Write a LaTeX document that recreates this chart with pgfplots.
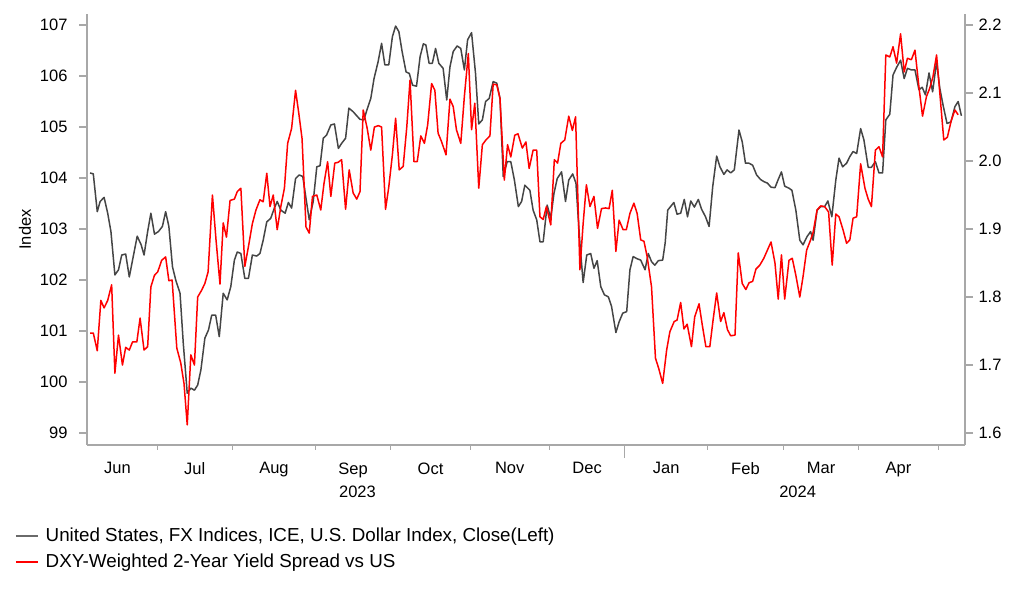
\documentclass[border=0pt]{standalone}
\usepackage{fontspec}
\setmainfont{Liberation Sans}
\usepackage{pgfplots}
\pgfplotsset{compat=1.18}
\usepackage{pgfplotstable}
\definecolor{dxy}{HTML}{454545}
\definecolor{axgray}{HTML}{A8A8A8}
\newcommand{\chartfont}{\fontsize{16.5}{19}\selectfont}
\newcommand{\legfont}{\fontsize{18.8}{21}\selectfont}

% x = business-day index from 1 Jun 2023
\pgfplotstableread{
x y
3.4 104.10
4.3 104.08
5.4 103.34
6.2 103.54
7.3 103.62
8.3 103.31
9.2 102.95
10.3 102.10
11.3 102.20
12.2 102.49
13.3 102.51
14.3 102.06
15.4 102.46
16.5 102.86
17.6 102.69
18.4 102.49
19.4 102.95
20.3 103.31
21.3 102.90
22.4 102.95
23.5 103.05
24.4 103.34
25.3 103.05
26.3 102.26
27.2 102.00
28.4 101.74
29.3 100.76
30.4 99.78
31.4 99.88
32.4 99.84
33.3 99.94
34.2 100.24
35.3 100.86
36.3 101.02
37.2 101.31
38.3 101.31
39.3 100.89
40.4 101.74
41.5 101.61
42.5 101.87
43.5 102.39
44.3 102.55
45.3 102.52
46.4 102.03
47.4 102.03
48.5 102.49
49.7 102.47
50.6 102.52
51.5 102.78
52.5 103.14
53.6 103.21
54.5 103.39
55.4 103.54
56.4 103.37
57.6 103.31
58.5 103.52
59.4 103.41
60.5 103.99
61.5 104.06
62.5 104.03
63.4 103.60
64.3 103.18
65.4 103.54
66.4 104.22
67.3 104.24
68.2 104.78
69.1 104.84
70.3 105.04
71.3 105.06
72.4 104.58
73.3 104.68
74.4 104.78
75.3 105.37
76.5 105.30
77.5 105.22
78.4 105.15
79.5 105.14
80.3 105.33
81.4 105.56
82.3 105.95
83.4 106.27
84.4 106.64
85.3 106.22
86.4 106.22
87.4 106.77
88.3 106.98
89.2 106.87
90.1 106.48
91.2 106.08
92.1 106.05
93.0 105.82
94.1 105.80
95.1 106.38
96.0 106.63
96.7 106.61
97.6 106.25
98.5 106.25
99.4 106.54
100.3 106.25
101.5 106.15
102.5 105.53
103.4 106.18
104.3 106.48
105.4 106.59
106.4 106.54
107.4 106.12
108.3 106.71
109.4 106.85
110.5 106.05
111.4 105.06
112.4 105.14
113.3 105.50
114.3 105.56
115.4 105.89
116.4 105.86
117.3 105.56
118.2 104.03
119.3 104.32
120.3 104.32
121.3 103.96
122.4 103.44
123.3 103.54
124.2 103.86
125.6 103.76
126.5 103.37
127.5 103.18
128.4 102.75
129.3 102.75
130.4 103.47
131.4 103.21
132.3 103.70
133.2 103.99
134.4 104.12
135.5 103.54
136.4 103.96
137.5 104.08
138.4 103.90
139.5 102.72
140.4 101.95
141.4 102.49
142.5 102.52
143.4 102.23
144.3 102.38
145.3 101.87
146.3 101.71
147.4 101.67
148.3 101.48
149.5 100.97
150.4 101.18
151.4 101.35
152.5 101.38
153.4 102.20
154.3 102.46
155.3 102.42
156.4 102.39
157.6 102.20
158.5 102.52
159.4 102.36
160.3 102.29
161.3 102.38
162.5 102.39
163.2 102.73
163.9 103.37
164.8 103.45
165.6 103.52
166.5 103.29
167.5 103.31
168.5 103.58
169.4 103.24
170.3 103.55
171.3 103.43
172.4 103.58
173.3 103.39
174.4 103.24
175.4 103.05
176.4 103.83
177.5 104.43
178.4 104.22
179.5 104.07
180.4 104.16
181.4 104.10
182.4 104.16
183.7 104.94
184.6 104.71
185.5 104.29
186.5 104.29
187.5 104.25
188.6 104.06
189.7 103.97
190.6 103.93
191.6 103.90
192.6 103.82
193.7 103.81
194.6 103.97
195.5 104.12
196.4 103.84
197.6 103.80
198.4 103.76
199.5 103.37
200.6 102.78
201.5 102.69
202.6 102.85
203.6 102.95
204.3 102.78
205.4 103.37
206.4 103.44
207.5 103.44
208.4 103.55
209.5 103.24
210.6 103.96
211.5 104.39
212.5 104.22
213.6 104.29
214.5 104.42
215.4 104.52
216.4 104.48
217.5 104.97
218.4 104.75
219.6 104.21
220.5 104.21
221.6 104.32
222.6 104.10
223.6 104.10
224.5 105.14
225.6 105.25
226.5 106.02
227.5 106.17
228.6 106.31
229.6 105.95
230.5 106.15
231.6 106.12
232.6 106.12
233.7 105.73
234.6 105.78
235.5 105.63
236.5 106.06
237.5 105.69
238.6 106.28
239.5 105.76
240.4 105.43
241.5 105.07
242.6 105.10
243.7 105.40
244.6 105.50
245.5 105.22
}\dxydata

\pgfplotstableread{
x y
3.4 1.747
4.3 1.747
5.4 1.721
6.4 1.795
7.3 1.784
8.3 1.795
9.4 1.818
10.3 1.688
11.3 1.744
12.4 1.700
13.3 1.726
14.3 1.722
15.2 1.734
16.4 1.734
17.3 1.769
18.4 1.722
19.4 1.727
20.3 1.815
21.3 1.832
22.2 1.837
23.3 1.854
24.4 1.859
25.3 1.824
26.2 1.825
27.5 1.725
28.6 1.703
29.5 1.673
30.4 1.612
31.4 1.715
32.4 1.700
33.3 1.800
34.4 1.810
35.3 1.820
36.2 1.837
37.4 1.950
38.4 1.884
39.5 1.819
40.4 1.909
41.3 1.888
42.3 1.942
43.5 1.944
44.3 1.955
45.3 1.960
46.4 1.845
47.4 1.874
48.5 1.908
49.5 1.928
50.6 1.943
51.5 1.940
52.5 1.982
53.4 1.933
54.3 1.950
55.4 1.899
56.4 1.933
57.4 1.960
58.3 2.026
59.4 2.048
60.5 2.104
61.4 2.070
62.3 2.033
63.4 1.903
64.3 1.894
65.2 1.948
66.4 1.950
67.5 1.928
68.4 1.967
69.4 1.999
70.3 1.948
71.4 1.997
72.3 1.998
73.3 2.002
74.4 1.929
75.4 1.987
76.5 1.953
77.5 1.944
78.4 1.955
79.3 2.075
80.4 2.048
81.4 2.016
82.4 2.050
83.5 2.052
84.4 2.050
85.5 1.929
86.4 1.962
87.4 2.009
88.3 2.063
89.3 1.987
90.4 1.992
91.4 2.050
92.3 2.119
93.4 1.999
94.3 1.999
95.3 2.037
96.3 2.026
97.2 2.053
98.3 2.114
99.2 2.104
100.1 2.041
101.1 2.028
102.3 2.009
103.4 2.091
104.3 2.080
105.2 2.046
106.4 2.026
107.4 2.095
108.5 2.158
109.4 2.046
110.3 2.085
111.4 1.960
112.4 2.024
113.4 2.031
114.5 2.037
115.4 2.113
116.4 2.112
117.3 2.092
118.5 1.972
119.4 2.024
120.3 2.006
121.4 2.038
122.3 2.040
123.5 2.019
124.5 2.028
125.4 1.989
126.5 2.016
127.5 2.016
128.4 1.918
129.3 1.914
130.2 1.933
131.4 1.906
132.4 2.002
133.3 1.997
134.2 2.026
135.3 2.031
136.4 2.066
137.4 2.045
138.3 2.065
139.5 1.840
140.4 1.908
141.3 1.965
142.3 1.933
143.4 1.948
144.4 1.901
145.5 1.930
146.6 1.931
147.6 1.930
148.5 1.957
149.5 1.867
150.4 1.913
151.5 1.899
152.4 1.899
153.4 1.923
154.5 1.938
155.4 1.923
156.4 1.884
157.3 1.882
158.2 1.859
159.4 1.815
160.5 1.710
161.4 1.695
162.5 1.673
163.6 1.722
164.5 1.749
165.7 1.764
166.5 1.766
167.5 1.792
168.4 1.753
169.3 1.760
170.5 1.727
171.4 1.771
172.6 1.790
173.5 1.759
174.5 1.727
175.6 1.727
176.5 1.766
177.5 1.806
178.6 1.764
179.5 1.777
180.5 1.752
181.4 1.743
182.6 1.744
183.5 1.865
184.6 1.820
185.6 1.811
186.5 1.821
187.5 1.823
188.4 1.841
189.5 1.847
190.6 1.857
191.6 1.869
192.6 1.881
193.7 1.850
194.6 1.797
195.5 1.862
196.4 1.797
197.6 1.854
198.5 1.857
199.5 1.832
200.6 1.800
201.5 1.830
202.5 1.869
203.6 1.884
204.3 1.895
205.4 1.928
206.4 1.934
207.5 1.933
208.6 1.925
209.6 1.847
210.6 1.922
211.5 1.918
212.6 1.899
213.6 1.879
214.5 1.884
215.4 1.916
216.4 1.918
217.5 1.996
218.7 1.960
219.6 1.944
220.5 1.933
221.6 2.016
222.6 2.021
223.6 2.006
224.5 2.156
225.6 2.153
226.5 2.168
227.5 2.144
228.6 2.187
229.6 2.131
230.5 2.151
231.6 2.149
232.6 2.163
233.7 2.109
234.7 2.066
235.8 2.095
236.7 2.107
237.6 2.124
238.6 2.156
239.5 2.100
240.6 2.031
241.6 2.035
242.7 2.060
243.7 2.075
244.6 2.068
}\spreaddata

\begin{document}
\begin{tikzpicture}
\path[use as bounding box] (0pt,0pt) rectangle (1022pt,597pt);
\pgfplotsset{
  common/.style={
    at={(87pt,152pt)}, anchor=south west,
    scale only axis, width=878pt, height=431pt,
    xmin=2.55, xmax=246.5,
    axis line style={axgray, line width=1.5pt},
    tick align=outside,
    tick label style={font=\chartfont, text=black},
    /pgf/number format/assume math mode=true,
    clip mode=individual,
  },
}
\begin{axis}[
  common,
  ymin=98.765, ymax=107.216,
  axis x line*=bottom, axis y line*=left,
  ytick={99,100,101,102,103,104,105,106,107},
  ytick style={axgray, line width=1.2pt},
  major tick length=8pt,
  yticklabel style={xshift=-8pt},
  xtick={11,32.5,54.5,76.5,98,120,141.5,163.5,185.5,206.5,228},
  xticklabels={Jun,Jul,Aug,Sep,Oct,Nov,Dec,Jan,Feb,Mar,Apr},
  major x tick style={draw=none},
  minor xtick={22,43,66,87,109,131,152,175,196,217,239},
  minor x tick style={axgray, line width=1pt},
  minor tick length=5pt,
  xticklabel style={yshift=-6pt},
  extra x ticks={152},
  extra x tick labels={},
  extra x tick style={major x tick style={draw=axgray, line width=1.2pt}, major tick length=13pt},
  ylabel={Index},
  every axis y label/.style={at={(axis description cs:-0.0706,0.5)}, anchor=center, rotate=90, font=\chartfont},
]
\addplot[dxy, line width=1.5pt, line join=round] table {\dxydata};
\node[font=\chartfont, anchor=center] at (axis cs:77.7,98.765) [yshift=-47pt] {2023};
\node[font=\chartfont, anchor=center] at (axis cs:200,98.765) [yshift=-47pt] {2024};
\end{axis}
\begin{axis}[
  common,
  ymin=1.5824, ymax=2.2162,
  hide x axis,
  axis y line*=right,
  ytick={1.6,1.7,1.8,1.9,2.0,2.1,2.2},
  ytick style={axgray, line width=1.2pt},
  major tick length=8pt,
  yticklabel style={xshift=2pt, /pgf/number format/.cd, fixed, fixed zerofill, precision=1},
  legend style={at={(-0.082,-0.188)}, anchor=north west, draw=none, fill=none,
    font=\legfont, row sep=7pt, inner sep=0pt,
    nodes={inner sep=2pt}},
  legend cell align=left,
  legend image code/.code={%
    \draw[#1] (0pt,0pt) -- (22pt,0pt);},
]
\addlegendimage{dxy!80!white, line width=1.5pt}
\addlegendentry{\hspace*{5pt}United States, FX Indices, ICE, U.S. Dollar Index, Close(Left)}
\addplot[red, line width=1.5pt, line join=round] table {\spreaddata};
\addlegendentry{\hspace*{5pt}DXY-Weighted 2-Year Yield Spread vs US}
\end{axis}
\end{tikzpicture}
\end{document}
